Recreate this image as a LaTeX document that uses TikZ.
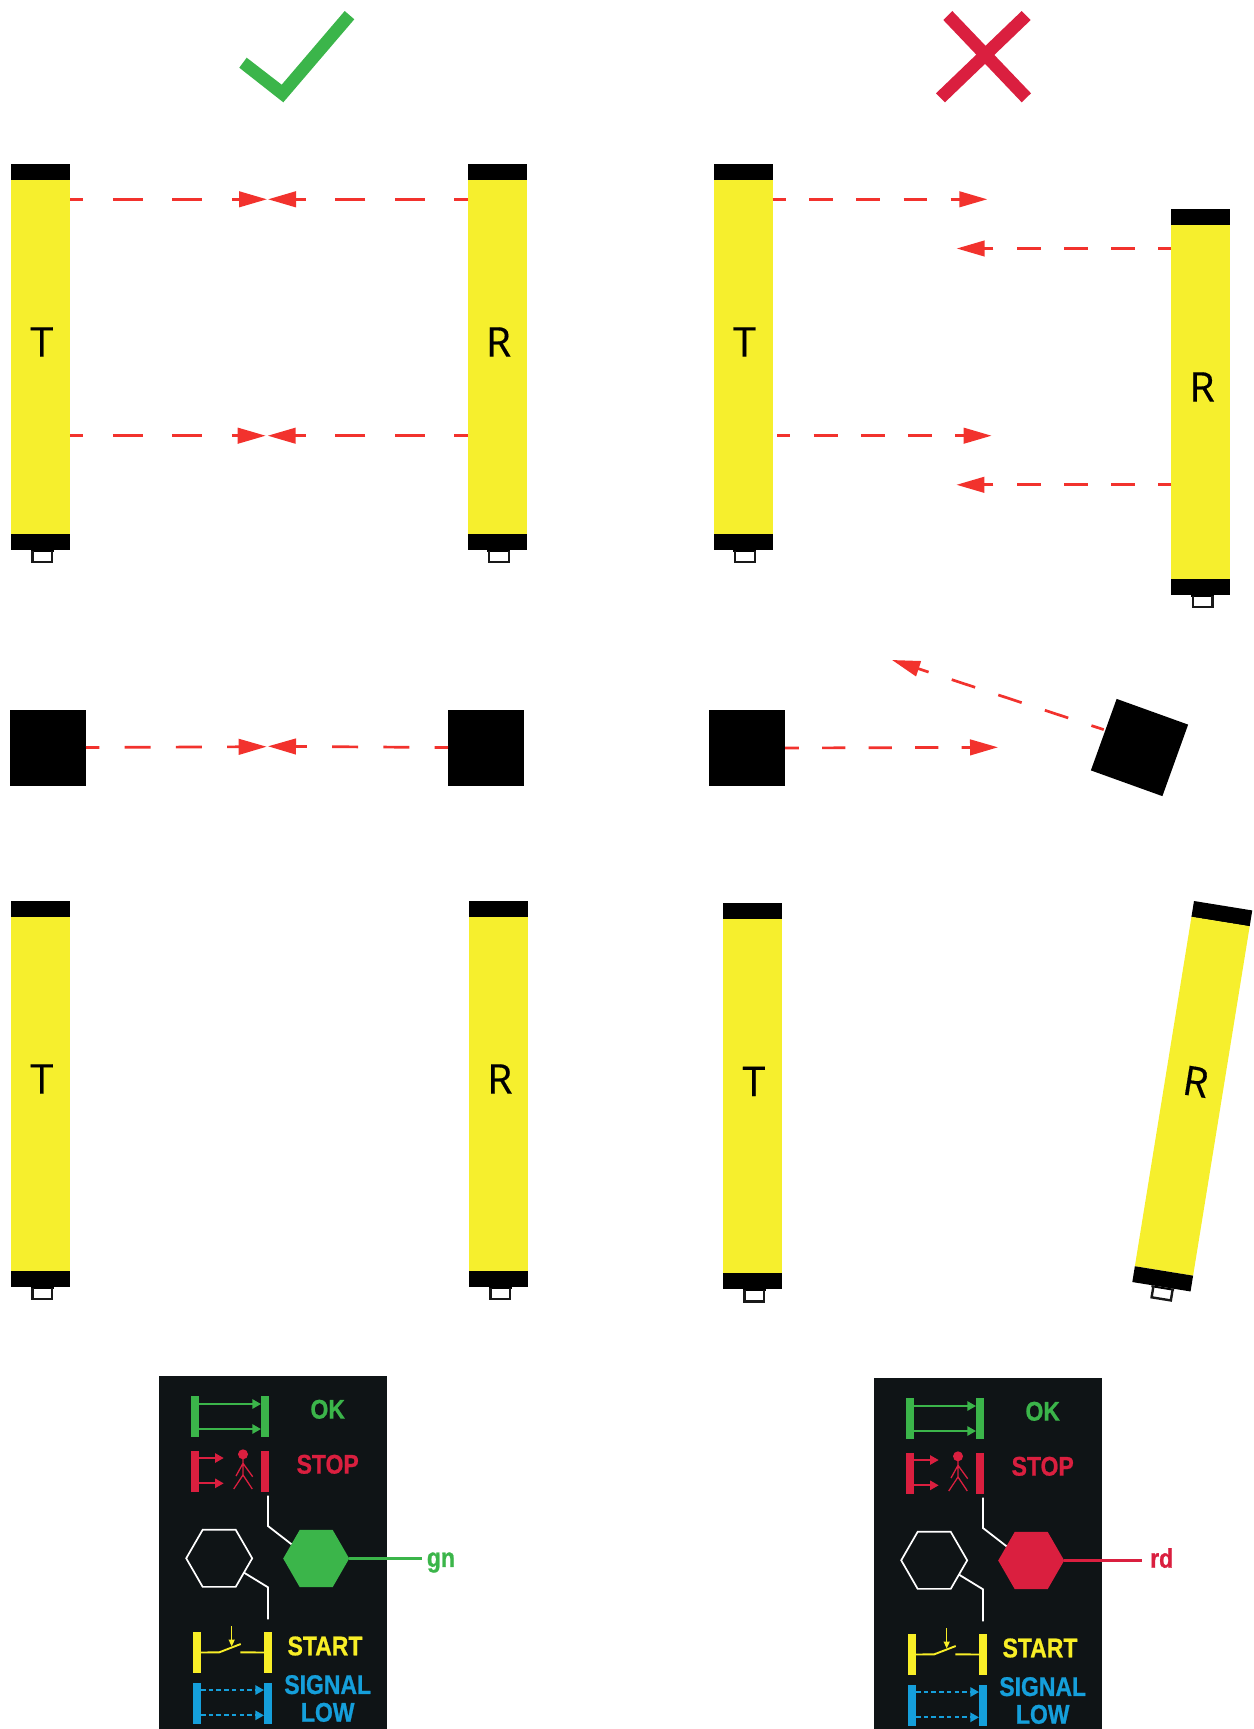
\documentclass[tikz,border=0pt]{standalone}
\usepackage{fontspec}
\usetikzlibrary{arrows.meta,shapes.geometric}
\newfontfamily\lettersfont[FakeBold=0.35]{Open Sans}
\newfontfamily\legendfont[FakeStretch=0.85,BoldFeatures={FakeBold=0.8}]{Liberation Sans}
\definecolor{curtainyellow}{HTML}{F6EF2D}
\definecolor{rayred}{HTML}{F2322D}
\definecolor{okgreen}{HTML}{3BB54A}
\definecolor{stopred}{HTML}{DA1F3F}
\definecolor{sigblue}{HTML}{159FDB}
\definecolor{panelblack}{HTML}{0F1416}
\definecolor{startyellow}{HTML}{F8EE27}
\tikzset{
  x=1pt,y=-1pt,
  ray/.style n args={3}{draw=rayred,line width=2.7pt,
     dash pattern=on #1pt off #2pt,dash phase=#3pt,
     -{Triangle[length=28pt,width=15.5pt,fill=rayred]}},
  bigray/.style={ray={30}{29.5}{16.7}},
  midray/.style={ray={23.8}{23.4}{10.8}},
  sqray/.style={ray={26}{25.3}{12.7}},
  sensor/.style={fill=black,inner sep=0pt,outer sep=0pt,minimum size=76pt},
  curtainbody/.style={fill=curtainyellow,inner sep=0pt,outer sep=0pt,
     minimum width=59pt,minimum height=354pt,anchor=north west,transform shape},
  letter/.style={font=\lettersfont\fontsize{41}{41}\selectfont,inner sep=0pt,text=black,transform shape},
  lbar/.style={inner sep=0pt,outer sep=0pt,minimum width=8pt,minimum height=41pt,anchor=north west},
  ltext/.style={font=\legendfont\bfseries\fontsize{27}{27.7}\selectfont,inner sep=0pt,align=center},
  hexnode/.style={regular polygon,regular polygon sides=6,minimum size=66pt,inner sep=0pt,outer sep=0pt},
  smallhead/.style={-{Triangle[length=8.7pt,width=9.3pt]}},
  pics/curtain/.style={code={
    \fill[black] (0,0) rectangle (59,16.2);
    \node[curtainbody] (-body) at (0,16) {};
    \fill[black] (0,370) rectangle (59,386);
    \fill[black] (19.5,386) rectangle (42.5,388);
    \draw[black!90,line width=2.4pt] (21.5,386.5) -- (21.5,398) -- (41,398) -- (41,386.5);
    \node[letter] (-label) at (30.8,178) {#1};
  }},
  pics/panel/.style n args={5}{code={
    \fill[panelblack] (0,0) rectangle (228,#5);
    % OK
    \node[lbar,fill=okgreen] (-ok1) at (32,20) {};
    \node[lbar,fill=okgreen] (-ok2) at (102,20) {};
    \draw[okgreen,line width=1.9pt,smallhead] (-ok1.east |- 0,28) -- (-ok2.west |- 0,28);
    \draw[okgreen,line width=1.9pt,smallhead] (-ok1.east |- 0,53) -- (-ok2.west |- 0,53);
    \node[ltext,text=okgreen] (-oktext) at (168.7,33.3) {OK};
    % STOP
    \node[lbar,fill=stopred] (-st1) at (32,75) {};
    \node[lbar,fill=stopred] (-st2) at (102,75) {};
    \coordinate (-sa) at (64.7,82);
    \coordinate (-sb) at (64.7,107.3);
    \draw[stopred,line width=1.9pt,smallhead] (-st1.east |- -sa) -- (-sa);
    \draw[stopred,line width=1.9pt,smallhead] (-st1.east |- -sb) -- (-sb);
    \fill[stopred] (84,78.3) circle (5);
    \draw[stopred,line width=1.3pt] (84,83) -- (84,99) -- (74.7,113)
       (84,99) -- (93.3,113) (77,100) -- (84,87.3) -- (93.7,100.7);
    \node[ltext,text=stopred] (-sttext) at (168.7,88.3) {STOP};
    % lamps
    \node[hexnode,draw=white,line width=1.7pt] (-hexw) at (60.2,182.3) {};
    \node[hexnode,fill=#1] (-hexc) at (157.2,182.5) {};
    \coordinate (-wtop) at (109,119.7);
    \draw[white,line width=1.8pt] (-wtop) -- (109,150) -- (-hexc.150);
    \draw[white,line width=1.8pt] (-hexw.-30) -- (109,211.3) -- (109,243.3);
    \node[ltext,text=#1,anchor=west] (-lamp) at (#4) {#2};
    \coordinate (-lampend) at (#3,182.5);
    \draw[#1,line width=2.1pt] (-hexc.east) -- (-lampend);
    % START
    \node[lbar,fill=startyellow] (-sy1) at (34,256) {};
    \node[lbar,fill=startyellow] (-sy2) at (105,256) {};
    \draw[startyellow,line width=1.9pt] (-sy1.east) -- (60.3,276.3) -- (81.7,268);
    \draw[startyellow,line width=1.9pt] (-sy2.west) -- (81.3,276.3);
    \draw[startyellow,line width=1.4pt,-{Triangle[length=7pt,width=6pt]}] (72.7,250.3) -- (72.7,270.5);
    \node[ltext,text=startyellow] (-sytext) at (166,270) {START};
    % SIGNAL LOW
    \node[lbar,fill=sigblue] (-sb1) at (34,307) {};
    \node[lbar,fill=sigblue] (-sb2) at (105,307) {};
    \draw[sigblue,line width=1.9pt,dash pattern=on 4.5pt off 3.2pt,smallhead] (-sb1.east |- 0,314) -- (-sb2.west |- 0,314);
    \draw[sigblue,line width=1.9pt,dash pattern=on 4.5pt off 3.2pt,smallhead] (-sb1.east |- 0,339.3) -- (-sb2.west |- 0,339.3);
    \node[ltext,text=sigblue] (-sbtext) at (168.7,322.5) {SIGNAL\\LOW};
  }},
}
\begin{document}
\begin{tikzpicture}
\useasboundingbox (0,0) rectangle (1253,1729);
% check and cross
\fill[okgreen] (246.7,57.7) -- (281.7,84.7) -- (344.7,11) -- (354.3,19.3) -- (283.3,102.3) -- (239.3,67.7) -- cycle;
\fill[stopred] (952.3,11) -- (1031,93.3) -- (1021.7,102.3) -- (943.3,20) -- cycle;
\fill[stopred] (1021.7,11) -- (1030.7,20) -- (945,102.3) -- (936,93.3) -- cycle;
% row 1
\pic (T1) at (11,164) {curtain=T};
\pic (R1) at (467.7,164) {curtain=R};
\pic (T2) at (713.7,164) {curtain=T};
\pic (R2) at (1171.3,209) {curtain=R};
\coordinate (t1a) at (267,199.3);
\coordinate (t1b) at (265.7,435.7);
\coordinate (r1a) at (268,199.3);
\coordinate (r1b) at (267.7,435.7);
\coordinate (t2a) at (987.3,199.3);
\coordinate (t2s) at (777.3,435.7);
\coordinate (t2b) at (991.6,435.7);
\coordinate (r2a) at (956.7,248.5);
\coordinate (r2b) at (956.4,484.8);
\draw[bigray] (T1-body.east |- t1a) -- (t1a);
\draw[bigray] (T1-body.east |- t1b) -- (t1b);
\draw[bigray] (R1-body.west |- r1a) -- (r1a);
\draw[bigray] (R1-body.west |- r1b) -- (r1b);
\draw[midray] (T2-body.east |- t2a) -- (t2a);
\draw[midray] (t2s) -- (t2b);
\draw[midray] (R2-body.west |- r2a) -- (r2a);
\draw[midray] (R2-body.west |- r2b) -- (r2b);
% row 2
\node[sensor] (S1) at (48,747.5) {};
\node[sensor] (S2) at (486,747.5) {};
\node[sensor] (S3) at (747,748) {};
\node[sensor,rotate=-19.8] (S4) at (1139.5,747.5) {};
\coordinate (s1t) at (266.7,746.7);
\coordinate (s2t) at (268,746.3);
\coordinate (s3t) at (998,747.3);
\coordinate (s4t) at (892,660);
\draw[sqray] (S1.east) -- (s1t);
\draw[sqray] (S2.west) -- (s2t);
\draw[ray={23.3}{23.2}{9.5}] (S3.east) -- (s3t);
\draw[ray={24.6}{24.4}{11.6}] ([yshift=5pt]S4.west) -- (s4t);
% row 3
\pic (T3) at (11,901) {curtain=T};
\pic (R3) at (469,901) {curtain=R};
\pic (T4) at (723,903.4) {curtain=T};
\pic[rotate=-9.2,transform shape] (R4) at (1194,901) {curtain=R};
% legends
\pic (P1) at (159,1376) {panel={okgreen}{gn}{262.7}{267.7,186.5}{353}};
\pic (P2) at (874,1378) {panel={stopred}{rd}{268.3}{276,180}{351}};
\end{tikzpicture}
\end{document}
